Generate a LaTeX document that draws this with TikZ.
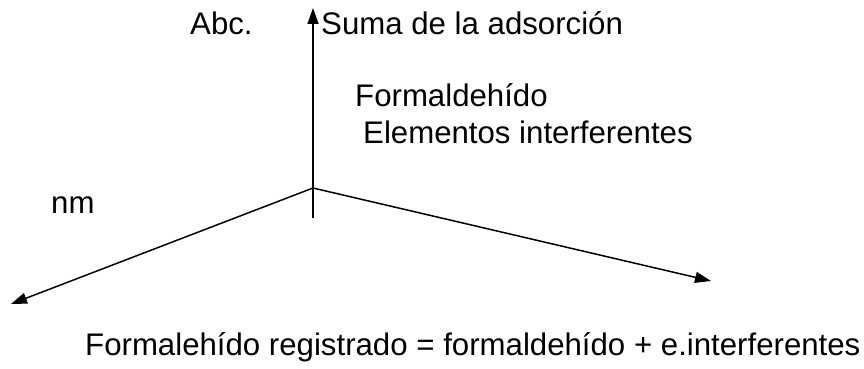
\documentclass[tikz,border=0pt]{standalone}
\usepackage{fontspec}
\setmainfont{Liberation Sans}
\usetikzlibrary{arrows.meta}
\begin{document}
\begin{tikzpicture}[x=1pt,y=-1pt,
  axis/.style={line width=1.5pt,-{Triangle[length=16pt,width=11pt]}},
  lbl/.style={anchor=base west,inner sep=0pt,font=\fontsize{31.2}{36}\selectfont}]
\useasboundingbox (0,0) rectangle (864,369);
\coordinate (o) at (313,188);
\coordinate (bot) at (313,218);
\coordinate (top) at (313,8);
\coordinate (left) at (11,304);
\coordinate (right) at (711,281);
\draw[axis] (bot) -- (top);
\draw[axis] (o) -- (left);
\draw[axis] (o) -- (right);
\node[lbl] (abc) at (190,35) {Abc.};
\node[lbl] (suma) at (321,35) {Suma de la adsorción};
\node[lbl] (form) at (355,106) {Formaldehído};
\node[lbl] (elem) at (363,143) {Elementos interferentes};
\node[lbl] (nm) at (51,213) {nm};
\node[lbl] (eq) at (85,355) {Formalehído registrado = formaldehído + e.interferentes};
\end{tikzpicture}
\end{document}
